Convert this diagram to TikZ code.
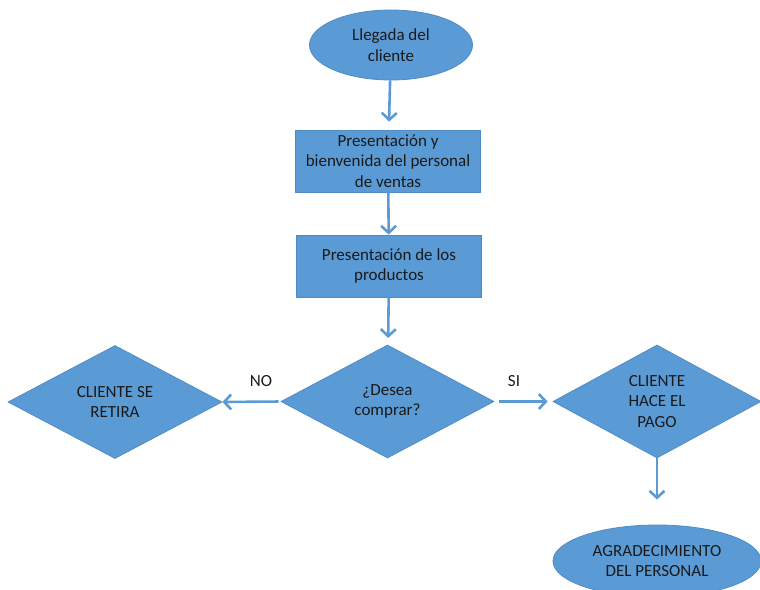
\documentclass[tikz,border=0pt]{standalone}
\usepackage{fontspec}
\setmainfont{Carlito}
\usetikzlibrary{shapes.geometric,arrows.meta}
\definecolor{boxblue}{HTML}{5B9BD5}
\definecolor{edgeblue}{HTML}{4F8CC6}
\definecolor{txt}{HTML}{1A1A1A}
\tikzset{
  base/.style={fill=boxblue,draw=edgeblue,line width=0.8pt,text=txt,align=center,inner sep=0pt,font=\fontsize{17}{20.5}\selectfont},
  oval/.style={base,ellipse,minimum width=163pt,minimum height=70pt},
  box/.style={base,rectangle,minimum width=185pt,minimum height=62pt},
  decision/.style={base,diamond,minimum width=213pt,minimum height=113pt},
  flow/.style={draw=boxblue,line width=2.6pt,-{Straight Barb[length=7pt,width=15pt,line width=2.6pt]}},
  lbl/.style={text=txt,font=\fontsize{17}{20}\selectfont}
}
\begin{document}
\begin{tikzpicture}[x=1pt,y=-1pt]
\useasboundingbox (0,0) rectangle (760,589);
\clip (0,0) rectangle (760,589);
\node[oval] (start) at (391,45) {Llegada del\\cliente};
\node[box] (pres) at (388,161) {Presentación y\\bienvenida del personal\\de ventas};
\node[box] (prod) at (389,266) {Presentación de los\\productos};
\node[decision] (dec) at (387.5,401.5) {¿Desea\\comprar?};
\node[decision,minimum width=214pt] (left) at (115,402) {CLIENTE SE\\RETIRA};
\node[decision,minimum width=208pt] (right) at (657,401.5) {CLIENTE\\HACE EL\\PAGO};
\node[oval,minimum width=208pt,minimum height=72pt] (end) at (657,561) {AGRADECIMIENTO\\DEL PERSONAL};
\node[lbl] (no) at (261,381) {NO};
\node[lbl] (si) at (514,381) {SI};
\draw[flow,shorten >=8pt] (start) -- (pres);
\draw[flow] (pres) -- (prod);
\draw[flow,shorten >=7pt] (prod) -- (dec);
\draw[flow,shorten <=2pt] (dec.west) -- (left.east);
\draw[flow,shorten <=5pt,shorten >=5pt] (dec.east) -- (right.west);
\draw[flow,shorten >=25pt] (right.south) -- (end.north);
\end{tikzpicture}
\end{document}
